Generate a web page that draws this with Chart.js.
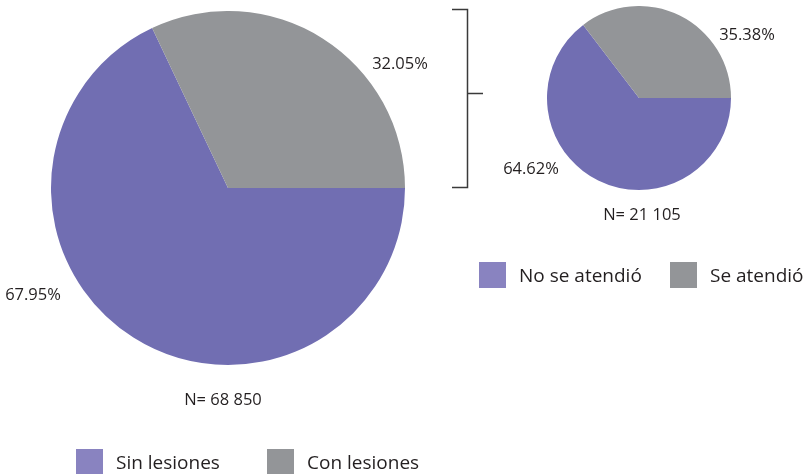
<!DOCTYPE html>
<html>
<head>
<meta charset="utf-8">
<script src="https://cdn.jsdelivr.net/npm/chart.js@4"></script>
<style>
  body { margin: 0; background: #fff; }
  #wrap { position: relative; width: 808px; height: 474px; overflow: hidden; font-family: "Open Sans", sans-serif; color: #231f20; }
  .pie { position: absolute; }
  .lbl { position: absolute; transform: translate(-50%, -50%); font-size: 16.5px; white-space: nowrap; }
  .leg { position: absolute; display: flex; align-items: center; font-size: 19px; white-space: nowrap; }
  .leg .box { width: 27px; height: 26px; margin-right: 13px; }
  .leg .item { display: flex; align-items: center; position: absolute; top: 0; }
</style>
</head>
<body>
<div id="wrap">
  <div class="pie" style="left:51px; top:11px; width:354px; height:354px;"><canvas id="pieGrande"></canvas></div>
  <div class="pie" style="left:547px; top:6px; width:184px; height:184px;"><canvas id="pieChico"></canvas></div>
  <svg style="position:absolute; left:0; top:0;" width="808" height="474">
    <path d="M452 9.5 H467.5 V187.5 H452 M467.5 93.5 H483" fill="none" stroke="#3a3a3a" stroke-width="1.5"/>
  </svg>
</div>

<script>
// datos
const categoriasGrande = ["Sin lesiones", "Con lesiones"];
const valoresGrande = [67.95, 32.05];
const totalGrande = "N= 68 850";

const categoriasChico = ["No se atendió", "Se atendió"];
const valoresChico = [64.62, 35.38];
const totalChico = "N= 21 105";

const coloresPie = ["#716eb2", "#939598"];
const coloresLeyenda = ["#8983c0", "#939598"];

const wrap = document.getElementById("wrap");

function crearPie (id, valores, categorias) {
    new Chart(document.getElementById(id), {
        type: "pie",
        data: {
            labels: categorias,
            datasets: [{
                data: valores,
                backgroundColor: coloresPie,
                borderWidth: 0
            }]
        },
        options: {
            responsive: true,
            maintainAspectRatio: false,
            animation: false,
            rotation: 90,
            layout: { padding: 0 },
            plugins: {
                legend: { display: false },
                tooltip: { enabled: false }
            }
        }
    });
}

function etiqueta (texto, x, y) {
    const d = document.createElement("div");
    d.className = "lbl";
    d.textContent = texto;
    d.style.left = x + "px";
    d.style.top = y + "px";
    wrap.appendChild(d);
}

function leyenda (categorias, x, y, desplazamientos) {
    const l = document.createElement("div");
    l.className = "leg";
    l.style.left = x + "px";
    l.style.top = y + "px";
    categorias.forEach((c, i) => {
        const it = document.createElement("div");
        it.className = "item";
        it.style.left = desplazamientos[i] + "px";
        it.innerHTML = `<span class="box" style="background:${coloresLeyenda[i]}"></span><span>${c}</span>`;
        l.appendChild(it);
    });
    wrap.appendChild(l);
}

crearPie("pieGrande", valoresGrande, categoriasGrande);
crearPie("pieChico", valoresChico, categoriasChico);

// etiquetas de porcentaje
etiqueta(valoresGrande[1].toFixed(2) + "%", 400, 62);
etiqueta(valoresGrande[0].toFixed(2) + "%", 33, 293);
etiqueta(totalGrande, 223, 398);
etiqueta(valoresChico[1].toFixed(2) + "%", 747, 33);
etiqueta(valoresChico[0].toFixed(2) + "%", 531, 167);
etiqueta(totalChico, 642, 213);

leyenda(categoriasGrande, 76, 449, [0, 191]);
leyenda(categoriasChico, 479, 262, [0, 191]);
</script>
</body>
</html>
